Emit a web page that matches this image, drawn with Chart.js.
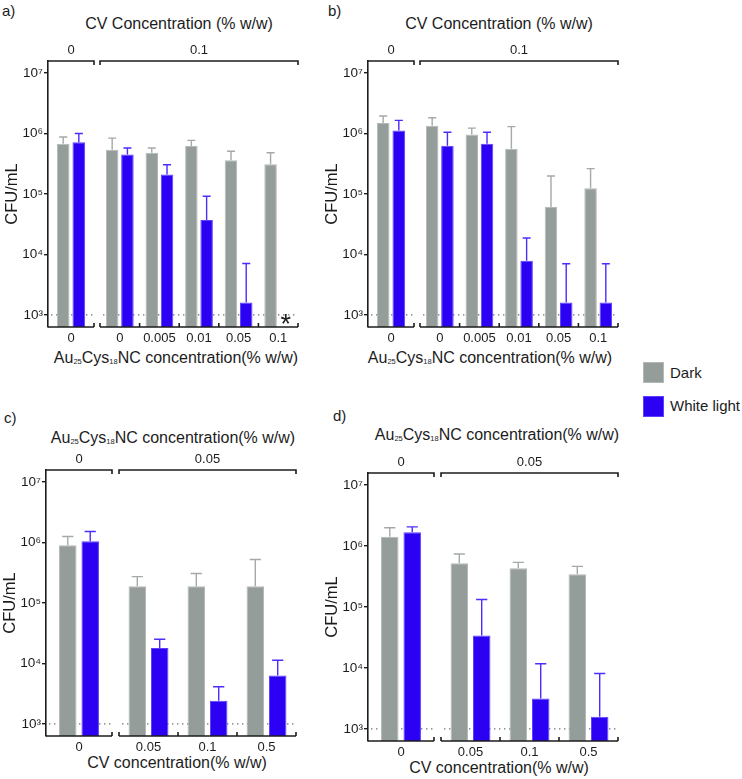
<!DOCTYPE html>
<html>
<head>
<meta charset="utf-8">
<script src="https://cdn.jsdelivr.net/npm/chart.js@4/dist/chart.umd.min.js"></script>
<style>
  body { margin: 0; background: #fff; }
  #fig { position: relative; width: 742px; height: 779px; overflow: hidden; font-family: "Liberation Sans", Arial, sans-serif; color: #1c1c1c; }
  #fig canvas { position: absolute; }
  .t { position: absolute; white-space: nowrap; line-height: 1; font-size: 16px; }
  .c { transform: translateX(-50%); }
  .sub { font-size: 7.5px; vertical-align: -1px; }
  .key { position: absolute; width: 21px; height: 21px; box-sizing: border-box; }
</style>
</head>
<body>
<div id="fig">
  <div class="t" style="left:2px;top:3px;font-size:15px">a)</div>
  <div class="t" style="left:328px;top:3px;font-size:15px">b)</div>
  <div class="t" style="left:4px;top:410px;font-size:15px">c)</div>
  <div class="t" style="left:333px;top:408px;font-size:15px">d)</div>

  <div class="t c" style="left:179px;top:16px">CV Concentration (% w/w)</div>
  <div class="t c" style="left:499px;top:16px">CV Concentration (% w/w)</div>
  <div class="t c" style="left:173px;top:430px">Au<span class="sub">25</span>Cys<span class="sub">18</span>NC concentration(% w/w)</div>
  <div class="t c" style="left:497px;top:427px">Au<span class="sub">25</span>Cys<span class="sub">18</span>NC concentration(% w/w)</div>

  <div class="t c" style="left:176px;top:350px">Au<span class="sub">25</span>Cys<span class="sub">18</span>NC concentration(% w/w)</div>
  <div class="t c" style="left:490px;top:350px">Au<span class="sub">25</span>Cys<span class="sub">18</span>NC concentration(% w/w)</div>
  <div class="t c" style="left:177px;top:755px">CV concentration(% w/w)</div>
  <div class="t c" style="left:499px;top:760px">CV concentration(% w/w)</div>

  <div class="key" style="left:643px;top:362px;background:#959d9a;border:1px solid #b3b9b7"></div>
  <div class="t" style="left:670px;top:365px;font-size:15px">Dark</div>
  <div class="key" style="left:643px;top:396px;background:#2b00f3;border:1px solid #5b40ff"></div>
  <div class="t" style="left:670px;top:398px;font-size:15px">White light</div>
</div>
<script>
// y axis (log scale, CFU/mL)
const yMin = Math.pow(10, 2.8);
const yMax = Math.pow(10, 7.2);
const yTicks = [1e3, 1e4, 1e5, 1e6, 1e7];
const yTickText = ['10³', '10⁴', '10⁵', '10⁶', '10⁷'];
const detectionLimit = 1e3;

// a) CV 0 / 0.1 % w/w, Au25Cys18NC varied (first entry = CV 0 control)
const aLabels = ['0', '0', '0.005', '0.01', '0.05', '0.1'];
const aGroups = ['0', '0.1'];
const aDark = [6.8e5, 5.4e5, 4.8e5, 6.2e5, 3.6e5, 3.1e5];
const aDarkTop = [8.75e5, 8.4e5, 5.75e5, 7.7e5, 5.1e5, 4.8e5];
const aLight = [7.2e5, 4.5e5, 2.1e5, 3.7e4, 1.6e3, null];
const aLightTop = [1.0e6, 5.75e5, 3.05e5, 9.2e4, 7.1e3, null];

// b)
const bLabels = ['0', '0', '0.005', '0.01', '0.05', '0.1'];
const bGroups = ['0', '0.1'];
const bDark = [1.49e6, 1.35e6, 9.6e5, 5.6e5, 6.1e4, 1.24e5];
const bDarkTop = [1.95e6, 1.83e6, 1.23e6, 1.3e6, 1.99e5, 2.63e5];
const bLight = [1.12e6, 6.3e5, 6.8e5, 7.9e3, 1.6e3, 1.6e3];
const bLightTop = [1.65e6, 1.05e6, 1.05e6, 1.87e4, 7.0e3, 7.0e3];

// c) Au25Cys18NC 0 / 0.05 % w/w, CV varied
const cLabels = ['0', '0.05', '0.1', '0.5'];
const cGroups = ['0', '0.05'];
const cDark = [9.0e5, 1.89e5, 1.89e5, 1.9e5];
const cDarkTop = [1.26e6, 2.73e5, 3.07e5, 5.24e5];
const cLight = [1.05e6, 1.81e4, 2.41e3, 6.35e3];
const cLightTop = [1.52e6, 2.51e4, 4.12e3, 1.13e4];

// d)
const dLabels = ['0', '0.05', '0.1', '0.5'];
const dGroups = ['0', '0.05'];
const dDark = [1.43e6, 5.25e5, 4.33e5, 3.45e5];
const dDarkTop = [2.0e6, 7.4e5, 5.4e5, 4.64e5];
const dLight = [1.69e6, 3.41e4, 3.14e3, 1.58e3];
const dLightTop = [2.07e6, 1.33e5, 1.17e4, 8.1e3];

const FONT = '"Liberation Sans", Arial, sans-serif';
const INK = '#1c1c1c';
const DARK = '#959d9a', DARK_EDGE = '#b3b9b7', DARK_ERR = '#a3aaa7';
const LIGHT = '#2b00f3', LIGHT_EDGE = '#5b40ff', LIGHT_ERR = '#4a2dff';

// bracket on top, broken bottom axis, dotted limit line, error bars, asterisk
const framePlugin = {
  id: 'frame',
  beforeDatasetsDraw(chart) {
    const { ctx, chartArea: a, scales: { y } } = chart;
    const yy = y.getPixelForValue(detectionLimit);
    ctx.save();
    ctx.strokeStyle = '#707070';
    ctx.lineWidth = 1.3;
    ctx.setLineDash([1.4, 3.6]);
    ctx.beginPath(); ctx.moveTo(a.left + 3, yy); ctx.lineTo(a.right, yy); ctx.stroke();
    ctx.restore();
  },
  afterDatasetsDraw(chart, args, opts) {
    const { ctx, chartArea: a, scales: { y } } = chart;
    ctx.save();
    chart.data.datasets.forEach((ds, di) => {
      const meta = chart.getDatasetMeta(di);
      ds.data.forEach((v, i) => {
        const bar = meta.data[i];
        if (v == null) {
          ctx.fillStyle = INK;
          ctx.font = '27px ' + FONT;
          ctx.textAlign = 'center';
          ctx.textBaseline = 'alphabetic';
          ctx.fillText('*', bar.x, y.getPixelForValue(detectionLimit) + 18);
          return;
        }
        const top = y.getPixelForValue(ds.errTop[i]);
        const half = bar.width * 0.32;
        ctx.strokeStyle = ds.errColor;
        ctx.lineWidth = 1.4;
        ctx.beginPath();
        ctx.moveTo(bar.x, bar.y); ctx.lineTo(bar.x, top);
        ctx.moveTo(bar.x - half, top); ctx.lineTo(bar.x + half, top);
        ctx.stroke();
      });
    });

    ctx.strokeStyle = INK;
    ctx.lineWidth = 1.6;
    ctx.beginPath();
    // bracket
    ctx.moveTo(a.left, a.top + (opts.axis ? 0 : 4)); ctx.lineTo(a.left, a.top);
    ctx.lineTo(a.right, a.top); ctx.lineTo(a.right, a.top + 4);
    // bottom axis with upward ticks at category edges
    ctx.moveTo(a.left, a.bottom); ctx.lineTo(a.right, a.bottom);
    const n = chart.data.labels.length;
    for (let i = opts.axis ? 1 : 0; i <= n; i++) {
      const px = a.left + (a.right - a.left) * i / n;
      ctx.moveTo(px, a.bottom); ctx.lineTo(px, a.bottom - 4);
    }
    ctx.stroke();

    ctx.fillStyle = INK;
    ctx.font = '13px ' + FONT;
    ctx.textAlign = 'center';
    ctx.textBaseline = 'middle';
    ctx.fillText(opts.group, (a.left + a.right) / 2, a.top - 11);
    ctx.restore();
  }
};

function addChart(left, top, width, height, labels, group, dark, darkTop, light, lightTop, axis, pct) {
  const canvas = document.createElement('canvas');
  canvas.width = width; canvas.height = height;
  canvas.style.left = left + 'px'; canvas.style.top = top + 'px';
  document.getElementById('fig').appendChild(canvas);

  const yScale = {
    type: 'logarithmic', min: yMin, max: yMax, display: axis, position: 'left'
  };
  if (axis) Object.assign(yScale, {
    afterBuildTicks: s => { s.ticks = yTicks.map(v => ({ value: v })); },
    afterFit: s => { s.width = 48; },
    ticks: { callback: (v, i) => yTickText[i], font: { size: 13.5, family: FONT }, color: INK, padding: 1, autoSkip: false },
    grid: { drawOnChartArea: false, drawTicks: true, tickLength: 4, color: INK, lineWidth: 1.4 },
    border: { display: true, color: INK, width: 1.6 },
    title: { display: true, text: 'CFU/mL', font: { size: 16.5, family: FONT }, color: INK, padding: { top: 3, bottom: 0 } }
  });

  new Chart(canvas, {
    type: 'bar',
    data: {
      labels,
      datasets: [
        { label: 'Dark', data: dark, errTop: darkTop, errColor: DARK_ERR,
          backgroundColor: DARK, borderColor: DARK_EDGE, borderWidth: 1 },
        { label: 'White light', data: light, errTop: lightTop, errColor: LIGHT_ERR,
          backgroundColor: LIGHT, borderColor: LIGHT_EDGE, borderWidth: 1 }
      ]
    },
    options: {
      responsive: false,
      animation: false,
      events: [],
      layout: { padding: { top: 22, left: axis ? 0 : 4, right: axis ? 4 : 6, bottom: 0 } },
      datasets: { bar: { categoryPercentage: pct[0], barPercentage: pct[1] } },
      plugins: { legend: { display: false }, tooltip: { enabled: false }, frame: { group, axis } },
      scales: {
        x: {
          grid: { display: false, drawTicks: false },
          border: { display: false },
          ticks: { font: { size: 13, family: FONT }, color: INK, padding: 4 },
          afterFit: s => { s.height = 22; }
        },
        y: yScale
      }
    },
    plugins: [framePlugin]
  });
}

// one panel = control group (with y axis) + treated group, sharing the y range
function addPanel(axisX, plotTop, plotBottom, leftW, rightX, rightW, labels, groups,
                  dark, darkTop, light, lightTop, pctL, pctR) {
  const h = 22 + (plotBottom - plotTop) + 22;
  addChart(axisX - 48, plotTop - 22, 48 + leftW + 4, h, labels.slice(0, 1), groups[0],
           dark.slice(0, 1), darkTop.slice(0, 1), light.slice(0, 1), lightTop.slice(0, 1), true, pctL);
  addChart(rightX - 4, plotTop - 22, 4 + rightW + 6, h, labels.slice(1), groups[1],
           dark.slice(1), darkTop.slice(1), light.slice(1), lightTop.slice(1), false, pctR);
}

addPanel(48, 61, 327, 46, 100, 198, aLabels, aGroups, aDark, aDarkTop, aLight, aLightTop, [0.68, 0.81], [0.77, 0.82]);
addPanel(368, 61, 327, 46, 420, 198, bLabels, bGroups, bDark, bDarkTop, bLight, bLightTop, [0.68, 0.81], [0.77, 0.82]);
addPanel(46, 470, 736, 66, 119, 177, cLabels, cGroups, cDark, cDarkTop, cLight, cLightTop, [0.68, 0.78], [0.76, 0.78]);
addPanel(368, 473, 741, 66, 441, 177, dLabels, dGroups, dDark, dDarkTop, dLight, dLightTop, [0.68, 0.78], [0.76, 0.78]);
</script>
</body>
</html>
